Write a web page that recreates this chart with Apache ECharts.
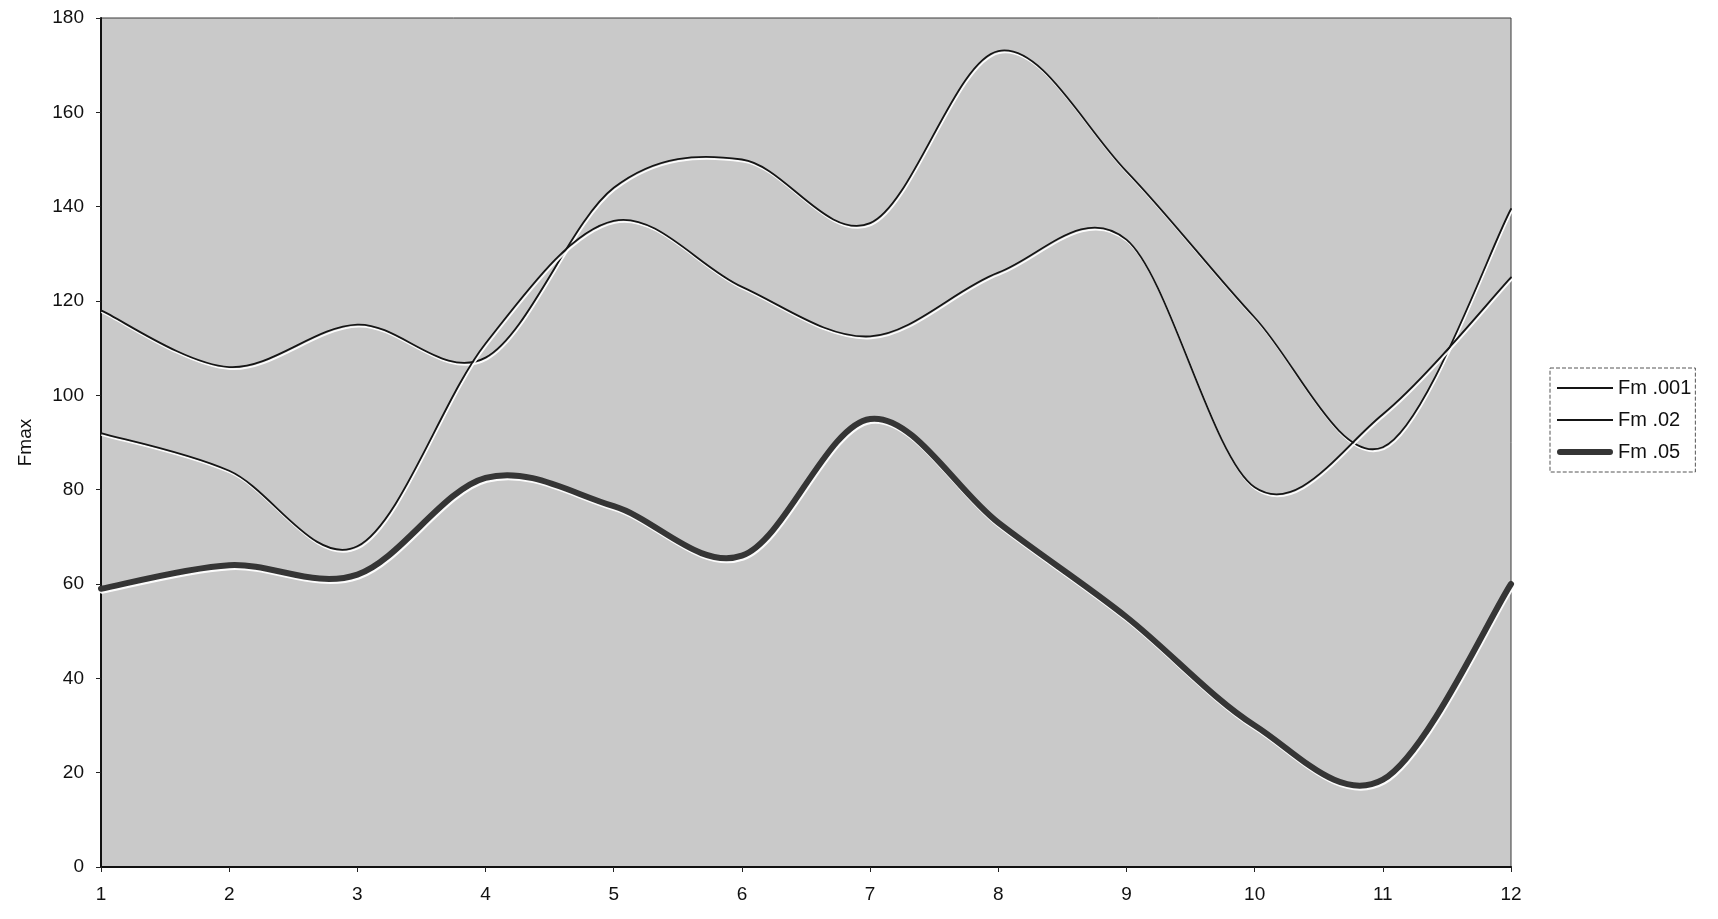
<!DOCTYPE html>
<html>
<head>
<meta charset="utf-8">
<script src="https://cdn.jsdelivr.net/npm/echarts@6/dist/echarts.min.js"></script>
<style>
  html, body { margin: 0; padding: 0; background: #ffffff; }
  #chart { width: 1718px; height: 919px; }
</style>
</head>
<body>
<div id="chart"></div>
<script>
// ---- data ----
var categories = ['1', '2', '3', '4', '5', '6', '7', '8', '9', '10', '11', '12'];
var fm001 = [118, 106, 115, 108, 144, 150, 136.5, 173, 147.5, 116.5, 89, 139.5];
var fm02  = [92, 84, 68, 111, 137, 123, 112.5, 126, 133, 80.5, 96, 125];
var fm05  = [59, 64, 62, 82.5, 76.5, 66, 95, 73, 53, 30, 18.5, 60];
var seriesNames = ['Fm .001', 'Fm .02', 'Fm .05'];
var yAxisName = 'Fmax';

var font = 'Liberation Sans, Arial, sans-serif';
var chart = echarts.init(document.getElementById('chart'));

// Smooth curve through the data points (Excel-style, Catmull-Rom tangents),
// positioned with the chart's own scales via api.coord.
function curveSeries(name, values, width, color) {
  return {
    name: name,
    type: 'custom',
    data: values.map(function (v, i) { return [i, v]; }),
    encode: { x: 0, y: 1 },
    itemStyle: { color: color },
    silent: true,
    renderItem: function (params, api) {
      if (params.dataIndex !== 0) return null;
      var n = values.length;
      var pts = values.map(function (v, i) { return api.coord([i, v]); });
      var d = 'M' + pts[0][0] + ',' + pts[0][1];
      for (var i = 0; i < n - 1; i++) {
        var p0 = pts[Math.max(i - 1, 0)], p1 = pts[i], p2 = pts[i + 1], p3 = pts[Math.min(i + 2, n - 1)];
        var c1x = p1[0] + (p2[0] - p0[0]) / 6, c1y = p1[1] + (p2[1] - p0[1]) / 6;
        var c2x = p2[0] - (p3[0] - p1[0]) / 6, c2y = p2[1] - (p3[1] - p1[1]) / 6;
        d += ' C' + c1x + ',' + c1y + ' ' + c2x + ',' + c2y + ' ' + p2[0] + ',' + p2[1];
      }
      return {
        type: 'path',
        shape: { pathData: d },
        style: {
          fill: 'none',
          stroke: color,
          lineWidth: width,
          lineCap: 'round',
          lineJoin: 'round',
          shadowColor: 'rgba(255,255,255,0.95)',
          shadowBlur: 0,
          shadowOffsetX: 1,
          shadowOffsetY: 2
        }
      };
    }
  };
}

var thinIcon = 'path://M0,0L0.01,0L0,0.01Z M0,6.1L56,6.1L56,7.9L0,7.9Z M56,14L55.99,14L56,13.99Z';
var thickIcon = 'path://M0,0L0.01,0L0,0.01Z M3,4L53,4A3,3,0,0,1,53,10L3,10A3,3,0,0,1,3,4Z M56,14L55.99,14L56,13.99Z';

chart.setOption({
  animation: false,
  backgroundColor: '#ffffff',
  grid: {
    left: 101, top: 18, right: 207, bottom: 52,
    show: true,
    backgroundColor: '#c9c9c9',
    borderColor: '#3a3a3a',
    borderWidth: 1
  },
  legend: {
    orient: 'vertical',
    left: 1550,
    top: 368,
    data: [
      { name: seriesNames[0], icon: thinIcon },
      { name: seriesNames[1], icon: thinIcon },
      { name: seriesNames[2], icon: thickIcon }
    ],
    symbolKeepAspect: false,
    itemWidth: 56,
    itemHeight: 14,
    itemGap: 12,
    padding: [10, 4, 10, 7],
    borderColor: '#555555',
    borderWidth: 1,
    borderType: 'dashed',
    textStyle: { fontFamily: font, fontSize: 20, color: '#111111' }
  },
  xAxis: {
    type: 'category',
    data: categories,
    boundaryGap: false,
    axisLine: { lineStyle: { color: '#111111', width: 2 } },
    axisTick: { show: true, length: 5, lineStyle: { color: '#222222' } },
    axisLabel: { fontFamily: font, fontSize: 19, color: '#111111', margin: 18 },
    splitLine: { show: false }
  },
  yAxis: {
    type: 'value',
    min: 0,
    max: 180,
    interval: 20,
    name: yAxisName,
    nameLocation: 'middle',
    nameGap: 66,
    nameTextStyle: { fontFamily: font, fontSize: 19, color: '#111111' },
    axisLine: { show: true, lineStyle: { color: '#111111', width: 2 } },
    axisTick: { show: true, length: 5, lineStyle: { color: '#222222' } },
    axisLabel: { fontFamily: font, fontSize: 19, color: '#111111', margin: 17 },
    splitLine: { show: false }
  },
  series: [
    curveSeries(seriesNames[0], fm001, 1.8, '#151515'),
    curveSeries(seriesNames[1], fm02, 1.8, '#151515'),
    curveSeries(seriesNames[2], fm05, 6, '#353535')
  ]
});
</script>
</body>
</html>
